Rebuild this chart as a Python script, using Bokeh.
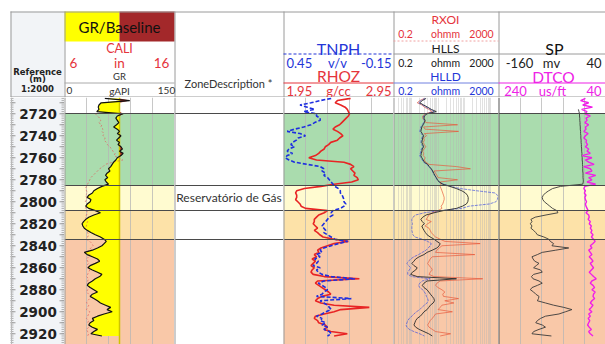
import numpy as np
from bokeh.plotting import figure
from bokeh.layouts import row, column
from bokeh.models import Range1d, FixedTicker
from bokeh.core.properties import value
from bokeh.embed import file_html
from bokeh.resources import INLINE

nan = float("nan")

# ---------------- data ----------------
DEPTH = list(range(2706, 2924, 2))  # m, 2 m sampling

GR = [55, 89, 50, 47, 46, 47, 44, 80, 72, 70,
      72, 74, 71, 67, 72, 75, 72, 77, 74, 71,
      75, 73, 77, 79, 75, 80, 77, 72, 70, 67,
      65, 63, 60, 62, 58, 56, 59, 55, 57, 60,
      51, 45, 40, 38, 33, 31, 36, 35, 31, 29,
      33, 42, 49, 40, 33, 29, 26, 24, 25, 27,
      31, 36, 42, 49, 54, 57, 54, 51, 45, 38,
      27, 31, 38, 45, 48, 42, 35, 32, 38, 45,
      51, 48, 42, 38, 33, 31, 35, 40, 45, 38,
      35, 40, 45, 49, 56, 63, 58, 65, 54, 45,
      38, 40, 35, 33, 38, 45, 40, 36, 51]

CALI = [nan, nan, nan, nan, nan, nan, nan, 8.8, 9.0, 9.2,
        9.3, 9.1, 9.4, 9.3, 9.5, 9.4, 9.6, 9.5, 9.7, 9.6,
        9.8, 9.9, 10.1, 10.3, 10.4, 10.6, 10.5, 10.9, 11.3, 10.4,
        9.7, 9.5, 9.2, 9.0, 8.8, 8.6, 8.4, 8.3, 8.2, 8.1,
        8.0, 7.9, 8.0, 8.1, 7.9, 8.0, 8.0, 7.9, 8.1, 8.0,
        7.9, 8.0, 8.1, 8.0, 7.9, 8.0, 8.1, 8.0, 8.0, 7.9,
        8.0, 8.1, 8.2, 8.1, 8.0, 8.3, 8.5, 8.6, 8.4, 8.2,
        8.1, 8.3, 8.2, 8.0, 8.1, 8.2, 8.0, 8.1, 8.3, 8.2,
        8.1, 8.0, 8.2, 8.1, 8.0, 8.2, 8.3, 8.1, 8.0, 8.2,
        8.4, 8.3, 8.1, 8.0, 8.2, 8.1, 8.0, 8.3, 8.2, 8.1,
        8.0, 8.2, 8.1, 8.3, 8.2, 8.0, 8.1, 8.2, 8.1]

TNPH = [0.19, 0.25, 0.30, 0.36, 0.32, 0.28, 0.34, 0.27, 0.27, 0.25,
        0.25, 0.28, 0.30, 0.34, 0.39, 0.43, 0.36, 0.33, 0.37, 0.38,
        0.40, 0.41, 0.39, 0.42, 0.43, 0.40, 0.43, 0.44, 0.42, 0.39,
        0.32, 0.25, 0.23, 0.24, 0.22, 0.23, 0.21, 0.20, 0.19, 0.18,
        0.17, 0.15, 0.14, 0.14, 0.13, 0.125, 0.12, 0.12, 0.11, 0.12,
        0.14, 0.18, 0.19, 0.18, 0.20, 0.21, 0.22, 0.23, 0.24, 0.23,
        0.22, 0.23, 0.21, 0.19, 0.17, 0.10, 0.15, 0.19, 0.23, 0.25,
        0.24, 0.27, 0.25, 0.28, 0.26, 0.27, 0.29, 0.25, 0.27, 0.26,
        0.24, 0.19, 0.06, 0.23, 0.26, 0.24, 0.22, 0.21, 0.23, 0.24,
        0.27, 0.08, 0.25, 0.23, 0.21, 0.20, 0.19, 0.22, 0.24, 0.27,
        0.24, 0.25, 0.22, 0.24, 0.21, 0.23, 0.20, 0.19, 0.21]

RHOZ = [2.56, 2.44, 2.42, 2.47, 2.51, 2.53, 2.54, 2.55, 2.54, 2.52,
        2.50, 2.48, 2.46, 2.42, 2.40, 2.44, 2.47, 2.49, 2.46, 2.44,
        2.38, 2.36, 2.33, 2.32, 2.29, 2.27, 2.24, 2.18, 2.25, 2.50,
        2.56, 2.59, 2.56, 2.58, 2.60, 2.59, 2.62, 2.63, 2.57, 2.41,
        2.29, 2.14, 2.07, 2.06, 2.07, 2.07, 2.06, 2.08, 2.10, 2.11,
        2.15, 2.35, 2.32, 2.27, 2.25, 2.23, 2.23, 2.22, 2.24, 2.26,
        2.23, 2.26, 2.28, 2.31, 2.41, 2.54, 2.41, 2.35, 2.29, 2.26,
        2.27, 2.23, 2.25, 2.21, 2.24, 2.22, 2.20, 2.23, 2.21, 2.20,
        2.22, 2.32, 2.64, 2.26, 2.24, 2.27, 2.30, 2.33, 2.36, 2.38,
        2.30, 2.26, 2.24, 2.29, 2.41, 2.73, 2.47, 2.41, 2.32, 2.24,
        2.23, 2.26, 2.27, 2.33, 2.35, 2.32, 2.38, 2.53, 2.41]

HLLS = [3.5, 2.5, 2.0, 2.8, 4.0, 5.5, 8.5, 3.8, 3.0, 2.9,
        3.2, 3.0, 2.7, 2.4, 2.3, 2.2, 2.5, 2.8, 2.6, 2.5,
        2.4, 2.6, 2.8, 2.5, 2.4, 2.3, 2.2, 2.4, 2.7, 3.0,
        4.0, 4.6, 5.5, 6.2, 6.8, 7.5, 8.5, 9.5, 11, 15,
        28, 50, 80, 110, 130, 140, 140, 135, 120, 85,
        50, 16, 7.0, 3.5, 2.6, 2.2, 2.5, 3.0, 2.4, 2.6,
        2.9, 3.3, 3.8, 5.0, 7.0, 9.0, 12, 11, 9.0, 6.0,
        3.8, 2.9, 1.9, 1.4, 1.2, 1.0, 1.2, 1.6, 1.4, 1.05,
        0.9, 1.6, 50, 3.8, 2.9, 2.5, 2.9, 3.8, 4.4, 5.1,
        6.0, 6.9, 7.3, 6.5, 5.1, 4.4, 3.8, 2.9, 2.5, 2.1,
        1.6, 1.4, 1.3, 1.2, 1.4, 1.9, 2.9, 4.4, 6.0]

HLLD = [3.2, 2.2, 1.8, 2.6, 3.5, 5.0, 7.0, 3.5, 2.8, 2.7,
        3.0, 2.8, 2.5, 2.2, 2.1, 2.0, 2.3, 2.6, 2.4, 2.3,
        2.2, 2.4, 2.6, 2.3, 2.2, 2.1, 2.0, 2.2, 2.5, 2.8,
        3.8, 4.4, 5.2, 6.0, 6.6, 7.3, 8.2, 9.2, 11, 16,
        30, 70, 300, 1500, 1800, 1900, 1800, 1600, 900, 150,
        80, 12, 3.0, 1.4, 1.1, 1.0, 1.0, 1.05, 1.0, 1.0,
        1.0, 1.05, 1.1, 1.3, 2.5, 4.0, 5.5, 5.0, 4.2, 3.5,
        2.5, 1.8, 1.2, 0.9, 0.75, 0.65, 0.75, 0.9, 0.8, 0.7,
        0.7, 1.0, 5.0, 2.5, 2.0, 1.8, 2.0, 2.6, 3.0, 3.4,
        3.6, 4.0, 4.2, 3.8, 3.0, 2.4, 2.0, 1.5, 1.2, 1.0,
        0.8, 0.7, 0.65, 0.6, 0.65, 0.8, 1.2, 2.0, 3.0]

RXOI = [3.0, 2.0, 1.6, 2.4, 3.0, 4.5, 6.0, 3.3, 2.6, 2.6,
        3.0, 3.4, 55, 2.8, 3.2, 60, 3.0, 3.6, 2.8, 3.0,
        2.7, 3.0, 3.4, 2.9, 2.6, 2.8, 2.7, 3.2, 3.0, 3.4,
        4.5, 50, 170, 7, 8, 9, 10, 55, 12, 13,
        12, 13, 14, 15, 16, 17, 17, 16, 15, 13,
        14, 10, 6.0, 4.5, 4.0, 3.5, 5.5, 4.0, 3.2, 4.5,
        5.0, 5.5, 6.5, 8.0, 12, 18, 400, 14, 11, 9.0,
        8.0, 250, 6.0, 5.0, 4.5, 4.0, 4.5, 5.5, 6.0, 5.0,
        4.5, 7.0, 500, 12, 9.0, 8.0, 10, 14, 18, 15,
        16, 60, 18, 40, 14, 12, 10, 35, 8.0, 7.0,
        6.0, 5.0, 4.5, 4.0, 4.5, 6.0, 8.0, 30, 12]

SP = [nan, nan, nan, nan, nan, -12, -11, -10, -10, -9.5,
      -9.5, -9, -9, -8.5, -8.5, -8, -8, -7.5, -7.5, -7,
      -7, -6.5, -6.5, -6, -6, -5.5, -5.5, -5, -5, -4.5,
      -4.5, -4, -4, -4, -3.5, -3.5, -3.5, -3, -3, -4,
      -45, -60, -67, -73, -77, -79, -78, -75, -70, -65,
      -60, -52, -50, -72, -92, -100, -98, -101, -98, -100,
      -95, -91, -88, -76, -67, -64, -58, -61, -30, -54,
      -79, -88, -98, -96, -93, -85, -90, -95, -82, -79,
      -95, -99, -96, -85, -79, -88, -98, -101, -95, -91,
      -85, -86, -88, -73, -58, -39, -24, -36, -48, -73,
      -82, -88, -91, -79, -73, -85, -95, -98, -62]

DTCO = [79, 88, 73, 84, 66, 86, 76, 80, 70, 78,
        76, 80, 73, 79, 78, 82, 74, 79, 82, 77,
        78, 75, 79, 73, 76, 70, 85, 67, 79, 73,
        63, 82, 70, 67, 79, 60, 73, 67, 76, 60,
        80, 82, 79, 81, 78, 80, 79, 77, 79, 78,
        76, 74, 78, 73, 72, 74, 70, 72, 68, 70,
        67, 69, 65, 68, 64, 61, 65, 70, 67, 73,
        70, 67, 72, 68, 65, 70, 67, 64, 68, 72,
        68, 64, 59, 67, 70, 65, 62, 67, 61, 64,
        65, 62, 67, 70, 65, 68, 72, 67, 73, 70,
        74, 71, 73, 75, 72, 68, 73, 70, 65]

ZONE_TOP = [2720, 2785, 2808, 2834]
ZONE_BASE = [2785, 2808, 2834, 2960]
ZONE_COLOR = ["#aadcae", "#fffbd0", "#fde2a8", "#f9c8a8"]
ZONE_DESC = ["", "Reservatório de Gás", "", ""]
DEPTH_LABELS = [2720, 2740, 2760, 2780, 2800, 2820, 2840, 2860, 2880, 2900, 2920]
GR_BASELINE = 75

# scales of the tracks
GR_MIN, GR_MAX = 0, 150
CALI_MIN, CALI_MAX = 6, 16
TNPH_L, TNPH_R = 0.45, -0.15
RHOZ_L, RHOZ_R = 1.95, 2.95
RES_MIN, RES_MAX = 0.2, 2000
SP_L, SP_R = -160, 40
DTCO_L, DTCO_R = 240, 40

# ---------------- layout ----------------
PX_PER_M = 1.1
TOP_DEPTH = 2705.2
HEAD_H = 97
DATA_H = 247
BOT_DEPTH = TOP_DEPTH + DATA_H / PX_PER_M
W_DEPTH, W_GR, W_ZONE, W_TNPH, W_RES, W_SP = 64, 110, 109, 110, 105, 107
SP_FULL_W = 108  # full width of the SP track; the window crops it
SP_VIS = W_SP / SP_FULL_W
TOTAL_W = W_DEPTH + W_GR + W_ZONE + W_TNPH + W_RES + W_SP

SEP = "#9a9a9a"
RED = "#e5343c"
BLUE = "#2436d8"
MAG = "#ee22e6"
FONT = value("Lato")


def track(width, x_range, x_axis_type="linear", grid_ticks=None, grid_alpha=0.75):
    p = figure(width=width, height=DATA_H, x_range=x_range,
               y_range=Range1d(BOT_DEPTH, TOP_DEPTH), x_axis_type=x_axis_type,
               x_axis_location=None, y_axis_location=None, title=None,
               toolbar_location=None, tools="", output_backend="svg", min_border=0)
    p.outline_line_color = None
    p.background_fill_color = "white"
    p.border_fill_color = "white"
    p.ygrid.visible = False
    if grid_ticks is not None:
        p.xgrid.ticker = FixedTicker(ticks=grid_ticks)
        p.xgrid.grid_line_color = "#b5b5b5"
        p.xgrid.grid_line_alpha = grid_alpha
        p.xgrid.grid_line_width = 1
    else:
        p.xgrid.visible = False
    return p


def zones(p):
    p.hstrip(y0=ZONE_TOP, y1=ZONE_BASE, fill_color=ZONE_COLOR,
             line_color=None, level="image")


def finish(p, left, sep=SEP):
    p.hspan(y=ZONE_TOP, line_color="#4a4a4a", line_width=1.2)
    p.vspan(x=[left], line_color=sep, line_width=2)


# depth column (x in pixels of the column)
pd_ = track(W_DEPTH, Range1d(0, W_DEPTH))
pd_.vstrip(x0=[10], x1=[W_DEPTH], fill_color="#f2f4f7", line_color=None, level="image")
minor = list(range(2706, 2930, 2))
major = list(range(2710, 2930, 10))
pd_.segment(x0=10, x1=13, y0=minor, y1=minor, line_color="#b0b0b0", line_width=1)
pd_.segment(x0=W_DEPTH - 3, x1=W_DEPTH, y0=minor, y1=minor, line_color="#b0b0b0", line_width=1)
pd_.segment(x0=10, x1=15, y0=major, y1=major, line_color="#999999", line_width=1)
pd_.segment(x0=W_DEPTH - 5, x1=W_DEPTH, y0=major, y1=major, line_color="#999999", line_width=1)
pd_.text(x=37.5, y=DEPTH_LABELS, text=[str(d) for d in DEPTH_LABELS],
         text_align="center", text_baseline="middle", text_font=value("DejaVu Sans"),
         text_font_style="bold", text_font_size="13.5px", text_color="#222222")
pd_.vspan(x=[10.5], line_color="#b8b8b8", line_width=1)

# GR track
pg = track(W_GR, Range1d(GR_MIN, GR_MAX), grid_ticks=[30, 60, 90, 120])
pg.extra_x_ranges = {"cali": Range1d(CALI_MIN, CALI_MAX)}
zones(pg)
gr = np.array(GR, dtype=float)
base = np.full(len(gr), float(GR_BASELINE))
pg.harea(x1=np.minimum(gr, GR_BASELINE), x2=base, y=DEPTH, fill_color="#ffff00")
pg.harea(x1=base, x2=np.maximum(gr, GR_BASELINE), y=DEPTH, fill_color="#a52a2a")
pg.vspan(x=[GR_BASELINE], line_color="#cfc400", line_width=1.5)
pg.line(np.array(CALI, dtype=float), DEPTH, x_range_name="cali", line_color="#e06060",
        line_dash="2 2", line_width=1, line_alpha=0.7)
pg.line(gr, DEPTH, line_color="#111111", line_width=1.2)
finish(pg, GR_MIN)

# Zone description
pz = track(W_ZONE, Range1d(0, 1))
pz.text(x=0.5, y=[(a + b) / 2 for a, b in zip(ZONE_TOP, ZONE_BASE)], text=ZONE_DESC,
        text_align="center", text_baseline="middle", text_font=FONT,
        text_font_size="12px", text_color="#333333")
finish(pz, 0)

# TNPH / RHOZ
pt = track(W_TNPH, Range1d(TNPH_L, TNPH_R), grid_ticks=[0.33, 0.21, 0.09, -0.03])
pt.extra_x_ranges = {"rhoz": Range1d(RHOZ_L, RHOZ_R)}
zones(pt)
pt.line(RHOZ, DEPTH, x_range_name="rhoz", line_color="#e82424", line_width=1.6)
pt.line(TNPH, DEPTH, line_color="#1d2ee0", line_width=1.6, line_dash="4 2")
finish(pt, TNPH_L)

# Resistivity
res_ticks = [m * 10 ** e for e in (-1, 0, 1, 2, 3) for m in range(1, 10)
             if RES_MIN < m * 10 ** e < RES_MAX]
pr = track(W_RES, Range1d(RES_MIN, RES_MAX), x_axis_type="log",
           grid_ticks=res_ticks, grid_alpha=0.4)
zones(pr)
pr.line(RXOI, DEPTH, line_color="#e8583a", line_width=0.8, line_alpha=0.85)
pr.line(HLLD, DEPTH, line_color="#4050e0", line_width=0.8, line_alpha=0.85, line_dash="3 1")
pr.line(HLLS, DEPTH, line_color="#2a2a2a", line_width=0.9)
finish(pr, RES_MIN)

# SP / DTCO
ps = track(W_SP, Range1d(SP_L, SP_L + (SP_R - SP_L) * SP_VIS), grid_ticks=[-120, -80, -40, 0])
ps.extra_x_ranges = {"dtco": Range1d(DTCO_L, DTCO_L + (DTCO_R - DTCO_L) * SP_VIS)}
zones(ps)
ps.line(np.array(SP, dtype=float), DEPTH, line_color="#3a3a3a", line_width=0.9)
ps.line(DTCO, DEPTH, x_range_name="dtco", line_color="#f01ee8", line_width=1.4)
finish(ps, SP_L, "#555555")

# ---------------- header (page pixel coordinates) ----------------
h = figure(width=TOTAL_W, height=HEAD_H, x_range=Range1d(0, TOTAL_W),
           y_range=Range1d(HEAD_H, 0), x_axis_location=None, y_axis_location=None,
           title=None, toolbar_location=None, tools="", output_backend="svg", min_border=0)
h.outline_line_color = None
h.grid.visible = False
h.quad(left=[10], right=[64], top=[11], bottom=[97], fill_color="#f2f4f7", line_color=None)
h.quad(left=[64, 119], right=[119, 174], top=[11, 11], bottom=[41, 41],
       fill_color=["#ffff00", "#a3282a"], line_color=None)


def hline(x0, x1, y, color=SEP, dash="solid", width=1):
    h.segment(x0=[x0], x1=[x1], y0=[y], y1=[y], line_color=color, line_dash=dash, line_width=width)


hline(10, TOTAL_W, 11.5)
hline(10, TOTAL_W, 96.5)
for xs in (10.5, 64.5, 174.5, 283.5, 393.5, 498.5):
    h.segment(x0=[xs], x1=[xs], y0=[11], y1=[97], line_color=SEP, line_width=1)
hline(64, 174, 82.5, "#aaaaaa")
hline(283, 393, 53.5, BLUE, "3 2", 1.2)
hline(283, 393, 82.5, RED, "solid", 1.2)
hline(393, 498, 40.5, "#f0a0a0", "2 2")
hline(393, 498, 53.5, "#9a9a9a")
hline(393, 498, 82.5, "#7080e0")
hline(498, TOTAL_W, 53.5, "#9a9a9a")
hline(498, TOTAL_W, 82.5, MAG, "solid", 1.2)


def htext(x, y, s, size, color="#222222", align="center", font=FONT, style="normal"):
    h.text(x=[x], y=[y], text=[s], text_align=align, text_baseline="middle",
           text_font=font, text_font_size=size, text_color=color, text_font_style=style)


dv = value("DejaVu Sans")
htext(37, 71, "Reference", "8.5px", "#222222", font=dv, style="bold")
htext(37, 78.5, "(m)", "8.5px", "#222222", font=dv, style="bold")
htext(37, 88.5, "1:2000", "8.5px", "#222222", font=dv, style="bold")

htext(119, 26, "GR/Baseline", "15px", "#111111")
htext(119, 48, "CALI", "12.5px", RED)
htext(73, 62, "6", "13.5px", RED)
htext(119, 62, "in", "13.5px", RED)
htext(161, 62, "16", "13.5px", RED)
htext(119, 75.5, "GR", "9.5px", "#333333")
htext(69, 90, "0", "10px", "#333333")
htext(119, 90, "gAPI", "10px", "#333333")
htext(166, 90, "150", "10px", "#333333")

htext(228, 83, "ZoneDescription *", "11px", "#333333")

htext(338, 47.5, "TNPH", "16px", BLUE)
htext(286, 62, "0.45", "13px", BLUE, align="left")
htext(337, 62, "v/v", "13px", BLUE)
htext(391, 62, "-0.15", "13px", BLUE, align="right")
htext(338, 75.5, "RHOZ", "15.5px", RED)
htext(286, 90, "1.95", "13px", RED, align="left")
htext(338, 90, "g/cc", "13px", RED)
htext(391, 90, "2.95", "13px", RED, align="right")

for y_name, y_sc, col, name in ((19, 33, RED, "RXOI"), (47.5, 62, "#222222", "HLLS"),
                                (76, 90, BLUE, "HLLD")):
    htext(445, y_name, name, "12px", col)
    htext(405, y_sc, "0.2", "10.5px", col)
    htext(445, y_sc, "ohmm", "10.5px", col)
    htext(481, y_sc, "2000", "10.5px", col)

htext(554, 47.5, "SP", "16px", "#111111")
htext(519, 62, "-160", "13px", "#222222")
htext(551, 62, "mv", "13px", "#222222")
htext(601, 62, "40", "13px", "#222222", align="right")
htext(553, 76, "DTCO", "15.5px", MAG)
htext(515, 90, "240", "13px", MAG)
htext(552, 90, "us/ft", "13px", MAG)
htext(601, 90, "40", "13px", MAG, align="right")

layout = column(h, row(pd_, pg, pz, pt, pr, ps))
open("out.html", "w").write(file_html(layout, INLINE))
